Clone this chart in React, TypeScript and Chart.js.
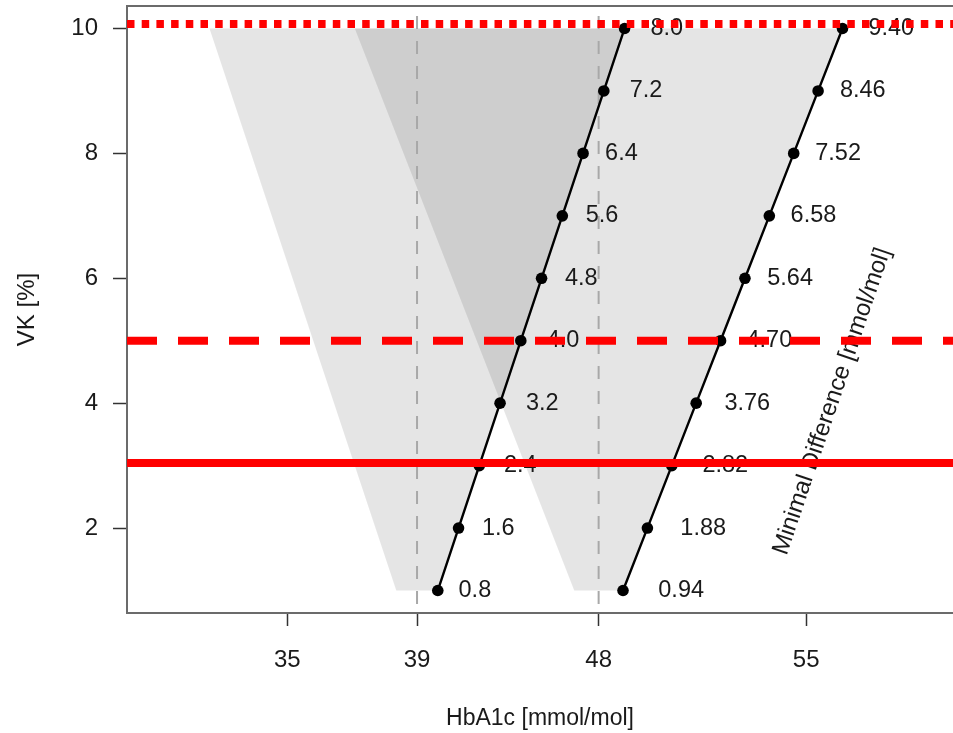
import React, { useEffect, useRef } from "react";
import { Chart, registerables } from "chart.js";

Chart.register(...registerables);

// ---- data ----
const vkLevels = [1, 2, 3, 4, 5, 6, 7, 8, 9, 10];

const line1X = [39.8, 40.6, 41.4, 42.2, 43.0, 43.8, 44.6, 45.4, 46.2, 47.0];
const line1Labels = ["0.8", "1.6", "2.4", "3.2", "4.0", "4.8", "5.6", "6.4", "7.2", "8.0"];
const line1LabelX = [40.6, 41.5, 42.35, 43.2, 44.0, 44.7, 45.5, 46.25, 47.2, 48.0];

const line2X = [46.94, 47.88, 48.82, 49.76, 50.7, 51.64, 52.58, 53.52, 54.46, 55.4];
const line2Labels = ["0.94", "1.88", "2.82", "3.76", "4.70", "5.64", "6.58", "7.52", "8.46", "9.40"];
const line2LabelX = [48.3, 49.15, 50.0, 50.85, 51.7, 52.5, 53.4, 54.35, 55.3, 56.4];

const band1X = [38.2, 31.0, 47.0, 39.8];
const band1Y = [1, 10, 10, 1];
const band2X = [45.06, 36.6, 55.4, 46.94];
const band2Y = [1, 10, 10, 1];

const refX = [39, 46];
const limitY = [10.07, 5, 3.04];

const xTickPos = [34, 39, 46, 54];
const xTickLabels = ["35", "39", "48", "55"];
const yTicks = [2, 4, 6, 8, 10];

const xRange = [27.82, 59.66];
const yRange = [0.64, 10.36];

const sideText = "Minimal Difference [mmol/mol]";
const sideTextPos = { x: 55.0, y: 4.03 };

export default function App() {
  const ref = useRef<HTMLCanvasElement>(null);

  useEffect(() => {
    document.body.style.margin = "0";
    const canvas = ref.current;
    if (!canvas) return;
    const family = "'Liberation Sans', Arial, Helvetica, sans-serif";
    const textColor = "#1a1a1a";

    const pts = (xs: number[], ys: number[]) => xs.map((x, i) => ({ x, y: ys[i] }));
    const hline = (y: number) => [
      { x: xRange[0], y },
      { x: xRange[1], y },
    ];
    const vline = (x: number) => [
      { x, y: yRange[1] },
      { x, y: yRange[0] },
    ];

    const band = (xs: number[], ys: number[]) => ({
      label: "band",
      data: pts(xs, ys),
      fill: "shape",
      backgroundColor: "rgba(0,0,0,0.1)",
      borderColor: "rgba(0,0,0,0)",
      borderWidth: 0,
      pointRadius: 0,
      order: 5,
    });
    const refLine = (x: number) => ({
      label: "ref",
      data: vline(x),
      borderColor: "#a8a8a8",
      borderWidth: 2,
      borderDash: [13, 12],
      borderDashOffset: 15,
      pointRadius: 0,
      fill: false,
      order: 4,
    });
    const mdLine = (name: string, xs: number[]) => ({
      label: name,
      data: pts(xs, vkLevels),
      borderColor: "#000",
      borderWidth: 2.4,
      pointRadius: 5.8,
      pointBackgroundColor: "#000",
      pointBorderWidth: 0,
      fill: false,
      order: 3,
    });
    const limit = (y: number, dash: number[]) => ({
      label: "limit",
      data: hline(y),
      borderColor: "#ff0000",
      borderWidth: 8,
      borderDash: dash,
      borderCapStyle: "butt",
      pointRadius: 0,
      fill: false,
      order: 1,
    });

    const labelPlugin = {
      id: "pointLabels",
      beforeDatasetsDraw(chart: any) {
        const { ctx, scales } = chart;
        const px = scales.x.getPixelForValue(sideTextPos.x);
        const py = scales.y.getPixelForValue(sideTextPos.y);
        ctx.save();
        ctx.translate(px, py);
        ctx.rotate((-71.2 * Math.PI) / 180);
        ctx.font = `24px ${family}`;
        ctx.fillStyle = textColor;
        ctx.textAlign = "center";
        ctx.textBaseline = "middle";
        ctx.fillText(sideText, 0, 0);
        ctx.restore();
      },
      afterDatasetDraw(chart: any, args: any) {
        const ds = chart.data.datasets[args.index];
        let lx: number[] | null = null;
        let labels: string[] | null = null;
        if (ds.label === "md1") {
          lx = line1LabelX;
          labels = line1Labels;
        } else if (ds.label === "md2") {
          lx = line2LabelX;
          labels = line2Labels;
        }
        if (!lx || !labels) return;
        const { ctx, scales } = chart;
        ctx.save();
        ctx.font = `23.5px ${family}`;
        ctx.fillStyle = textColor;
        ctx.textAlign = "left";
        ctx.textBaseline = "middle";
        labels.forEach((t, i) => {
          ctx.fillText(t, scales.x.getPixelForValue(lx![i]), scales.y.getPixelForValue(vkLevels[i]));
        });
        ctx.restore();
      },
      afterDraw(chart: any) {
        const { ctx, chartArea } = chart;
        ctx.save();
        ctx.strokeStyle = "#6b6b6b";
        ctx.lineWidth = 2;
        ctx.beginPath();
        ctx.moveTo(chartArea.left - 1, chartArea.top);
        ctx.lineTo(chartArea.right, chartArea.top);
        ctx.stroke();
        ctx.restore();
      },
    };

    const chart = new Chart(canvas, {
      type: "line",
      data: {
        datasets: [
          band(band1X, band1Y),
          band(band2X, band2Y),
          refLine(refX[0]),
          refLine(refX[1]),
          mdLine("md1", line1X),
          mdLine("md2", line2X),
          limit(limitY[0], [7.5, 7.2]),
          limit(limitY[1], [30, 21]),
          limit(limitY[2], []),
        ] as any,
      },
      options: {
        animation: false,
        responsive: false,
        events: [],
        layout: { autoPadding: false, padding: { top: 6, left: 0, right: 0, bottom: 0 } },
        plugins: {
          legend: { display: false },
          tooltip: { enabled: false },
        },
        scales: {
          x: {
            type: "linear",
            min: xRange[0],
            max: xRange[1],
            afterBuildTicks: (s: any) => {
              s.ticks = xTickPos.map((v) => ({ value: v }));
            },
            afterFit: (s: any) => {
              s.height = 120;
              s.paddingLeft = 0;
              s.paddingRight = 0;
            },
            ticks: {
              autoSkip: false,
              maxRotation: 0,
              padding: 20,
              color: textColor,
              font: { family, size: 24 },
              callback: (_v: any, i: number) => xTickLabels[i],
            },
            grid: {
              drawOnChartArea: false,
              drawTicks: true,
              tickLength: 13,
              tickColor: "#333",
              tickWidth: 1.5,
            },
            border: { display: true, color: "#6b6b6b", width: 2 },
            title: {
              display: true,
              text: "HbA1c [mmol/mol]",
              color: textColor,
              font: { family, size: 23 },
              padding: { top: 0, bottom: 1 },
            },
          },
          y: {
            type: "linear",
            min: yRange[0],
            max: yRange[1],
            afterBuildTicks: (s: any) => {
              s.ticks = yTicks.map((v) => ({ value: v }));
            },
            afterFit: (s: any) => {
              s.width = 127;
              s.paddingTop = 0;
              s.paddingBottom = 0;
            },
            ticks: {
              padding: 15,
              color: textColor,
              font: { family, size: 24 },
              callback: (v: any) => String(v),
            },
            grid: {
              drawOnChartArea: false,
              drawTicks: true,
              tickLength: 14,
              tickColor: "#333",
              tickWidth: 1.5,
            },
            border: { display: true, color: "#6b6b6b", width: 2 },
            title: {
              display: true,
              text: "VK [%]",
              color: textColor,
              font: { family, size: 24 },
              padding: { top: 13, bottom: 0 },
            },
          },
        },
      } as any,
      plugins: [labelPlugin],
    });

    return () => chart.destroy();
  }, []);

  return (
    <div style={{ width: 953, height: 733 }}>
      <canvas ref={ref} width={953} height={733} style={{ display: "block" }} />
    </div>
  );
}
